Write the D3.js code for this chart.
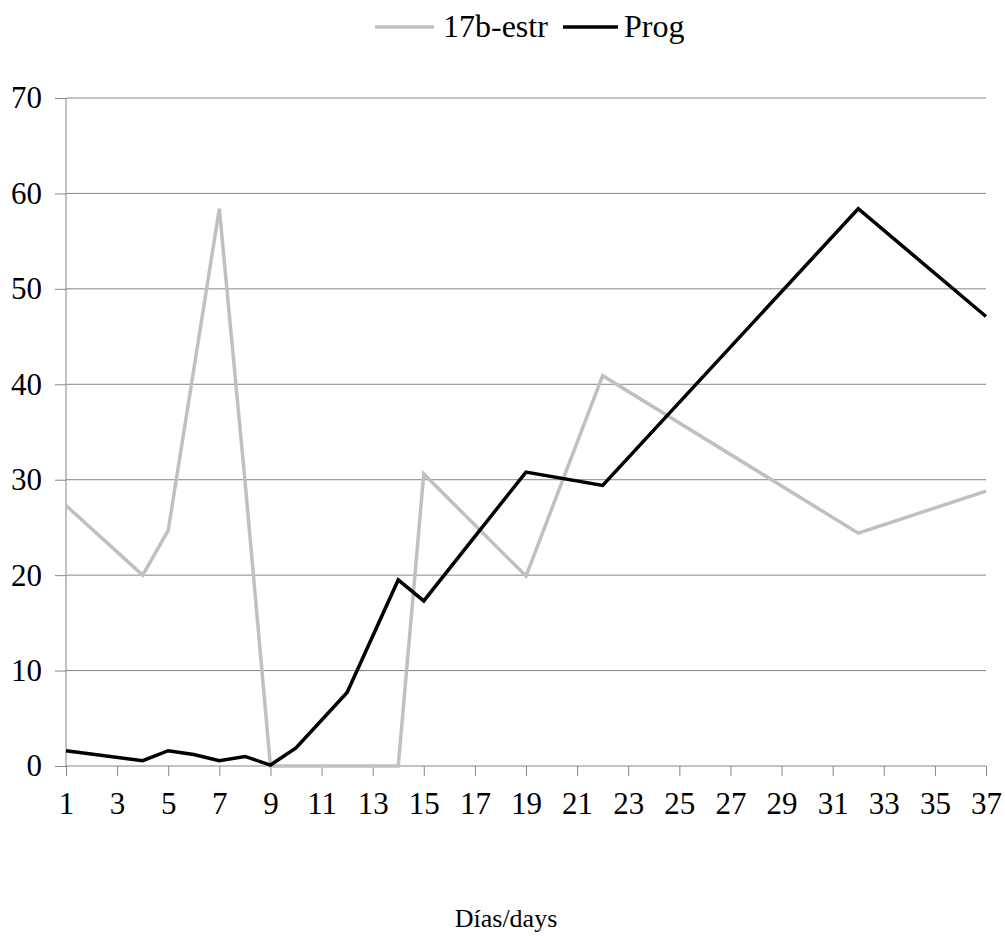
<!DOCTYPE html>
<html>
<head>
<meta charset="utf-8">
<script src="https://cdn.jsdelivr.net/npm/d3@7"></script>
<style>
  body { margin: 0; background: #fff; }
  svg text { font-family: "Liberation Serif", "Times New Roman", serif; fill: #000; }
</style>
</head>
<body>
<div id="chart"></div>
<script>
// 17b-estr (gray) and Prog (black), by day
const estrDays = [1, 4, 5, 7, 8, 9, 14, 15, 19, 22, 32, 37];
const estrVals = [27.3, 20, 24.7, 58.4, 30, 0, 0, 30.6, 19.9, 40.9, 24.4, 28.8];
const progDays = [1, 4, 5, 6, 7, 8, 9, 10, 12, 14, 15, 19, 22, 32, 37];
const progVals = [1.6, 0.55, 1.6, 1.2, 0.55, 1.0, 0.1, 1.9, 7.7, 19.5, 17.3, 30.8, 29.4, 58.4, 47.1];
const xTicks = d3.range(1, 38, 2);
const yTicks = [0, 10, 20, 30, 40, 50, 60, 70];

const width = 1005, height = 936;
const margin = { top: 98, right: 19, bottom: 170, left: 66 };
const innerW = width - margin.left - margin.right;
const innerH = height - margin.top - margin.bottom;

const svg = d3.select('#chart').append('svg')
    .attr('width', width)
    .attr('height', height);

const g = svg.append('g')
    .attr('transform', 'translate(' + margin.left + ',' + margin.top + ')');

const x = d3.scaleLinear().domain([1, 37]).range([0, innerW]);
const y = d3.scaleLinear().domain([0, 70]).range([innerH, 0]);

const axisColor = '#868686';

// gridlines
g.append('g')
    .selectAll('line')
    .data(yTicks.filter(d => d > 0))
    .enter()
    .append('line')
    .attr('x1', 0)
    .attr('x2', innerW)
    .attr('y1', d => y(d))
    .attr('y2', d => y(d))
    .attr('stroke', axisColor)
    .attr('stroke-width', 1);

// y axis
const yAxis = g.append('g')
    .call(d3.axisLeft(y).tickValues(yTicks).tickSize(11).tickPadding(13).tickFormat(d3.format('d')));
yAxis.selectAll('line, path').attr('stroke', axisColor);
yAxis.select('path').attr('d', 'M0,' + innerH + 'V0');
yAxis.selectAll('text')
    .style('font-family', '"Liberation Serif", "Times New Roman", serif')
    .style('font-size', '31px')
    .attr('fill', '#000');

// x axis
const xAxis = g.append('g')
    .attr('transform', 'translate(0,' + innerH + ')')
    .call(d3.axisBottom(x).tickValues(xTicks).tickSize(10).tickPadding(16).tickFormat(d3.format('d')));
xAxis.selectAll('line, path').attr('stroke', axisColor);
xAxis.select('path').attr('d', 'M0,0H' + innerW);
xAxis.selectAll('text')
    .style('font-family', '"Liberation Serif", "Times New Roman", serif')
    .style('font-size', '31px')
    .attr('fill', '#000');

const line = d3.line()
    .x(d => x(d[0]))
    .y(d => y(d[1]));

g.append('path')
    .datum(d3.zip(estrDays, estrVals))
    .attr('fill', 'none')
    .attr('stroke', '#c0c0c0')
    .attr('stroke-width', 3.5)
    .attr('stroke-linejoin', 'miter')
    .attr('d', line);

g.append('path')
    .datum(d3.zip(progDays, progVals))
    .attr('fill', 'none')
    .attr('stroke', '#000')
    .attr('stroke-width', 3.5)
    .attr('stroke-linejoin', 'miter')
    .attr('d', line);

// legend
const legend = svg.append('g');
legend.append('line')
    .attr('x1', 375).attr('x2', 434).attr('y1', 27).attr('y2', 27)
    .attr('stroke', '#c0c0c0').attr('stroke-width', 3.5);
legend.append('text')
    .attr('x', 443).attr('y', 37)
    .style('font-size', '32px')
    .text('17b-estr');
legend.append('line')
    .attr('x1', 563).attr('x2', 618).attr('y1', 27).attr('y2', 27)
    .attr('stroke', '#000').attr('stroke-width', 3.5);
legend.append('text')
    .attr('x', 624).attr('y', 37)
    .style('font-size', '32px')
    .text('Prog');

// x axis title
svg.append('text')
    .attr('x', 506)
    .attr('y', 927)
    .attr('text-anchor', 'middle')
    .style('font-size', '26px')
    .text('Días/days');
</script>
</body>
</html>
